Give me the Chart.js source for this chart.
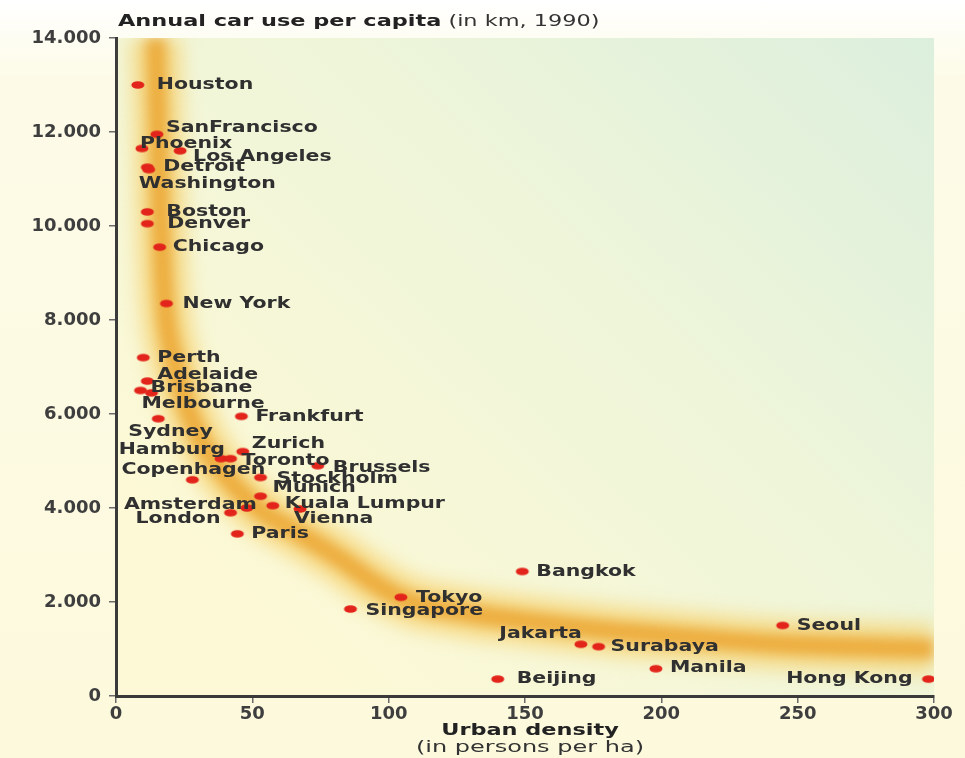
<!DOCTYPE html>
<html>
<head>
<meta charset="utf-8">
<title>Annual car use per capita</title>
<script src="https://cdn.jsdelivr.net/npm/chart.js@4/dist/chart.umd.min.js"></script>
<style>
  html, body { margin: 0; padding: 0; }
  body {
    width: 965px;
    height: 758px;
    overflow: hidden;
    background: linear-gradient(#ffffff 0%, #fdfbe8 10%, #fcf9dc 100%);
  }
</style>
</head>
<body>
<canvas id="chart" width="965" height="758"></canvas>
<script>
/************ Data ************************************/

const cities = [
  "Houston", "SanFrancisco", "Phoenix", "Los Angeles", "Detroit", "Washington",
  "Boston", "Denver", "Chicago", "New York", "Perth", "Adelaide", "Brisbane",
  "Melbourne", "Sydney", "Frankfurt", "Zurich", "Hamburg", "Toronto", "Brussels",
  "Copenhagen", "Stockholm", "Munich", "Kuala Lumpur", "Amsterdam", "London",
  "Vienna", "Paris", "Bangkok", "Tokyo", "Singapore", "Seoul", "Jakarta",
  "Surabaya", "Manila", "Beijing", "Hong Kong"
];

// urban density, persons per ha
const density = [
  8, 15, 9.5, 23.5, 11.5, 12,
  11.5, 11.5, 16, 18.5, 10, 11.5, 9,
  13, 15.5, 46, 46.5, 38.5, 42, 74,
  28, 53, 53, 57.5, 48, 42,
  67.5, 44.5, 149, 104.5, 86, 244.5, 170.5,
  177, 198, 140, 298
];

// annual car use per capita, km (1990)
const carUse = [
  13000, 11950, 11650, 11600, 11250, 11200,
  10300, 10050, 9550, 8350, 7200, 6700, 6500,
  6450, 5900, 5950, 5200, 5050, 5050, 4900,
  4600, 4650, 4250, 4050, 4000, 3900,
  3980, 3450, 2650, 2100, 1850, 1500, 1100,
  1050, 580, 360, 360
];

// centre line of the orange trend band
const bandX = [14.5, 15.5, 16.5, 18.5, 22, 27, 36, 52, 66, 80, 104, 125, 150, 180, 210, 245, 300];
const bandY = [14000, 12000, 10000, 8000, 7000, 6000, 5000, 4000, 3500, 3000, 2100, 1800, 1600, 1400, 1250, 1100, 1000];

const xTicks = [0, 50, 100, 150, 200, 250, 300];
const yTicks = [0, 2000, 4000, 6000, 8000, 10000, 12000, 14000];

/************ Label placement (px from the dot) **************/

let labelPlace = {
  "Houston": [19, 0], "SanFrancisco": [9, -7], "Phoenix": [-2, -5],
  "Los Angeles": [13, 6], "Detroit": [16, 0], "Washington": [-10, 14],
  "Boston": [19, 0], "Denver": [20, 0], "Chicago": [13, 0], "New York": [16, 0],
  "Perth": [14, 0], "Adelaide": [10, -6], "Brisbane": [10, -3],
  "Melbourne": [-10, 11], "Sydney": [-30, 13], "Frankfurt": [14, 0],
  "Zurich": [9, -8], "Hamburg": [4, -9, "right"], "Toronto": [11, 2],
  "Brussels": [15, 2], "Copenhagen": [1, -10, "center"], "Stockholm": [16, 1],
  "Munich": [12, -8], "Kuala Lumpur": [12, -2], "Amsterdam": [10, -3, "right"],
  "London": [-10, 6, "right"], "Vienna": [-6, 10], "Paris": [14, 0],
  "Bangkok": [14, 0], "Tokyo": [15, 1], "Singapore": [15, 2], "Seoul": [14, 0],
  "Jakarta": [1, -10, "right"], "Surabaya": [12, 0], "Manila": [14, -1],
  "Beijing": [19, 0], "Hong Kong": [-16, 0, "right"]
};

let font = "'DejaVu Sans', 'Liberation Sans', sans-serif";

function makeDot() {
  let c = document.createElement("canvas");
  c.width = 16;
  c.height = 10;
  let g = c.getContext("2d");
  g.fillStyle = "#e2241b";
  g.beginPath();
  g.ellipse(8, 5, 6.5, 3.8, 0, 0, Math.PI * 2);
  g.fill();
  return c;
}

// draws text squeezed wide, like the original print
function wideText(ctx, text, x, y, sx, align) {
  let w = ctx.measureText(text).width * sx;
  if (align === "right") x -= w;
  if (align === "center") x -= w / 2;
  ctx.save();
  ctx.translate(x, y);
  ctx.scale(sx, 1);
  ctx.textAlign = "left";
  ctx.fillText(text, 0, 0);
  ctx.restore();
  return w;
}

/************ Plugins **************/

let backdrop = {
  id: "backdrop",
  beforeDraw(chart) {
    let ctx = chart.ctx;
    let a = chart.chartArea;
    let g = ctx.createLinearGradient(a.right, a.top, a.left + 200, a.bottom);
    g.addColorStop(0, "#dcefdd");
    g.addColorStop(0.45, "#eef5d9");
    g.addColorStop(1, "#fdf9d6");
    ctx.save();
    ctx.fillStyle = g;
    ctx.fillRect(a.left, a.top, a.right - a.left, a.bottom - a.top);
    ctx.restore();
  }
};

let glow = {
  id: "glow",
  beforeDatasetDraw(chart, args) {
    let blur = chart.data.datasets[args.index].blur;
    if (blur) {
      chart.ctx.save();
      chart.ctx.filter = `blur(${blur}px)`;
    }
  },
  afterDatasetDraw(chart, args) {
    if (chart.data.datasets[args.index].blur) chart.ctx.restore();
  }
};

let cityLabels = {
  id: "cityLabels",
  afterDatasetsDraw(chart) {
    let ctx = chart.ctx;
    let meta = chart.getDatasetMeta(2);
    ctx.save();
    ctx.font = `bold 16px ${font}`;
    ctx.fillStyle = "#303030";
    ctx.textBaseline = "middle";
    meta.data.forEach((pt, i) => {
      let place = labelPlace[cities[i]];
      wideText(ctx, cities[i], pt.x + place[0], pt.y + place[1], 1.28, place[2] || "left");
    });
    ctx.restore();
  }
};

let titles = {
  id: "titles",
  afterDraw(chart) {
    let ctx = chart.ctx;
    let a = chart.chartArea;
    ctx.save();
    ctx.fillStyle = "#222";
    ctx.textBaseline = "middle";
    ctx.font = `bold 16px ${font}`;
    let w = wideText(ctx, "Annual car use per capita", a.left + 2, 22, 1.4, "left");
    ctx.font = `16px ${font}`;
    ctx.fillStyle = "#333";
    wideText(ctx, " (in km, 1990)", a.left + 2 + w, 22, 1.4, "left");

    let cx = (a.left + a.right) / 2 + 5;
    ctx.font = `bold 16px ${font}`;
    ctx.fillStyle = "#222";
    wideText(ctx, "Urban density", cx, 731, 1.4, "center");
    ctx.font = `16px ${font}`;
    ctx.fillStyle = "#333";
    wideText(ctx, "(in persons per ha)", cx, 748, 1.5, "center");
    ctx.restore();
  }
};

/************ Chart **************/

let bandPoints = bandX.map((x, i) => ({ x: x, y: bandY[i] }));
let cityPoints = density.map((x, i) => ({ x: x, y: carUse[i] }));

function axisStyle(ticks) {
  return {
    type: "linear",
    afterBuildTicks: (scale) => {
      scale.ticks = ticks.map((v) => ({ value: v }));
    },
    grid: {
      display: true,
      drawOnChartArea: false,
      drawTicks: true,
      tickLength: 7,
      color: "#6a6a6a",
      lineWidth: 1.5
    },
    border: { display: true, color: "#3a3a3a", width: 3 },
    ticks: {
      color: "#3e3e3e",
      font: { family: font, size: 18, weight: "bold" },
      maxRotation: 0,
      autoSkip: false
    }
  };
}

let xAxis = axisStyle(xTicks);
xAxis.min = 0;
xAxis.max = 300;
xAxis.ticks.padding = 1;
xAxis.afterFit = (scale) => { scale.height = 62; };

let yAxis = axisStyle(yTicks);
yAxis.min = 0;
yAxis.max = 14000;
yAxis.ticks.padding = 8;
yAxis.ticks.callback = (value) => String(value).replace(/\B(?=(\d{3})+(?!\d))/g, ".");
yAxis.afterFit = (scale) => { scale.width = 116; };

new Chart(document.getElementById("chart"), {
  type: "scatter",
  data: {
    datasets: [
      {
        type: "line",
        data: bandPoints,
        borderColor: "rgba(246, 206, 100, 0.65)",
        borderWidth: 50,
        tension: 0.4,
        pointRadius: 0,
        fill: false,
        blur: 9,
        order: 3
      },
      {
        type: "line",
        data: bandPoints,
        borderColor: "rgba(233, 158, 38, 0.75)",
        borderWidth: 20,
        tension: 0.4,
        pointRadius: 0,
        fill: false,
        blur: 6,
        order: 2
      },
      {
        data: cityPoints,
        pointStyle: makeDot(),
        pointRadius: 6,
        order: 1
      }
    ]
  },
  options: {
    responsive: false,
    animation: false,
    layout: { padding: { top: 38, right: 31, left: 0, bottom: 0 } },
    plugins: {
      legend: { display: false },
      tooltip: { enabled: false }
    },
    scales: { x: xAxis, y: yAxis }
  },
  plugins: [backdrop, glow, cityLabels, titles]
});
</script>
</body>
</html>
